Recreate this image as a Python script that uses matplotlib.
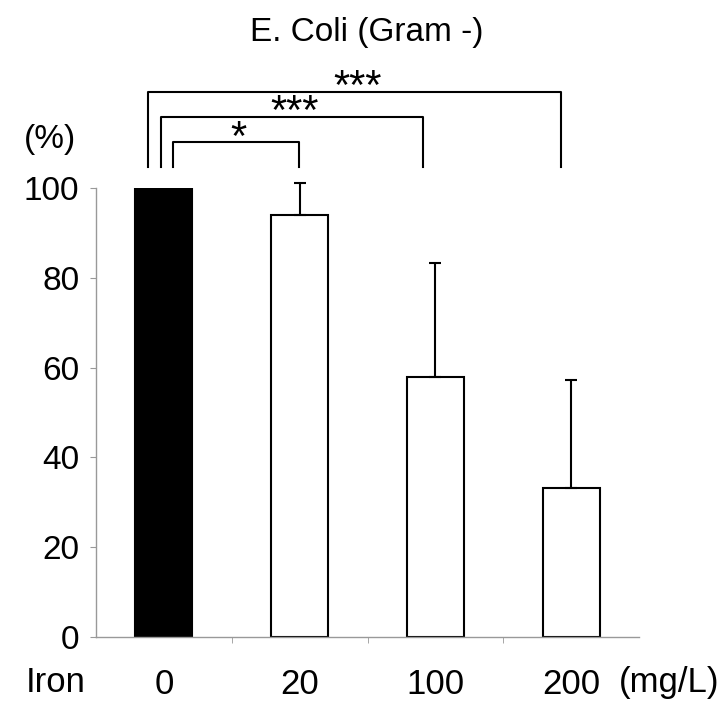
import matplotlib
matplotlib.use("Agg")
import matplotlib.pyplot as plt
import numpy as np

plt.rcParams['font.family'] = ['Liberation Sans', 'DejaVu Sans']

# data
doses = ["0", "20", "100", "200"]
values = [100, 94, 58, 33.2]
errors = [0, 7, 25.3, 24]
colors = ["black", "white", "white", "white"]

# significance: (left idx, right idx, left offset, right offset, height, label)
sig_pairs = [(0, 1, 0.067, -0.006, 110.2, "*"),
             (0, 2, -0.023, -0.088, 115.8, "***"),
             (0, 3, -0.115, -0.073, 121.4, "***")]

fig = plt.figure(figsize=(7.24, 7.28), dpi=100)
ax = fig.add_axes([0.1326, 0.125, 0.75, 0.6168])

x = np.arange(len(doses))
ax.bar(x, values, width=0.42, color=colors, edgecolor="black", linewidth=1.5, zorder=2)
eb = ax.errorbar(x[1:], values[1:], yerr=[np.zeros(3), errors[1:]], fmt="none",
                 ecolor="black", elinewidth=1.5, capsize=4.5, capthick=1.5, zorder=3)
for art in eb.lines[1] + eb.lines[2]:
    art.set_clip_on(False)

ax.set_xlim(-0.5, 3.5)
ax.set_ylim(0, 100)
ax.set_yticks([0, 20, 40, 60, 80, 100])
ax.tick_params(axis="y", labelsize=24, length=4, color="#999999", pad=8)
ax.set_xticks(x)
ax.set_xticklabels(doses)
ax.tick_params(axis="x", which="major", labelsize=25, length=0, pad=22)
ax.set_xticks([0.5, 1.5, 2.5], minor=True)
ax.tick_params(axis="x", which="minor", length=4, color="#999999")

for s in ["top", "right"]:
    ax.spines[s].set_visible(False)
for s in ["left", "bottom"]:
    ax.spines[s].set_color("#999999")
    ax.spines[s].set_linewidth(1.0)

# brackets
leg_bottom = 104.7
for i, j, lo, ro, h, lab in sig_pairs:
    xl, xr = x[i] + lo, x[j] + ro
    ax.plot([xl, xl, xr, xr], [leg_bottom, h, h, leg_bottom], color="black",
            linewidth=1.5, clip_on=False, zorder=4)
    ax.text((xl + xr) / 2 + 0.02, h + 0.8, lab, ha="center", va="center",
            fontsize=30, clip_on=False)

fig.text(0.507, 0.955, "E. Coli (Gram -)", ha="center", va="center", fontsize=24)
fig.text(0.069, 0.808, "(%)", ha="center", va="center", fontsize=24)
fig.text(0.035, 0.063, "Iron", ha="left", va="center", fontsize=25)
fig.text(0.855, 0.063, "(mg/L)", ha="left", va="center", fontsize=25)

fig.savefig("out.png", dpi=100)
